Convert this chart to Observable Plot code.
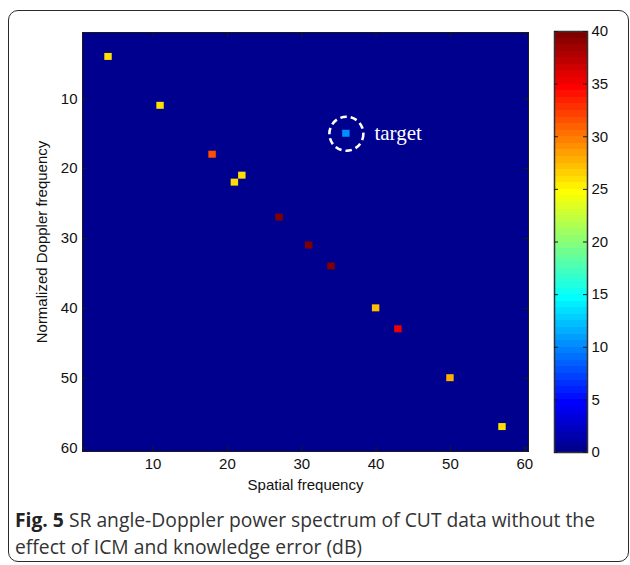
<!DOCTYPE html>
<html>
<head>
<meta charset="utf-8">
<script src="https://cdn.jsdelivr.net/npm/d3@7"></script>
<script src="https://cdn.jsdelivr.net/npm/@observablehq/plot@0.6"></script>
<style>
  html, body { margin: 0; padding: 0; background: #fff; }
  #page { position: relative; width: 630px; height: 565px; overflow: hidden; }
  #box {
    position: absolute; left: 8px; top: 10px; width: 619px; height: 550px;
    border: 1.5px solid #2a2a2a; border-radius: 10px;
  }
  #main, #bar { position: absolute; top: 0; }
  #main { left: 0; }
  #bar { left: 540px; }
  #caption {
    position: absolute; left: 15px; top: 506px; width: 610px;
    font-family: "Open Sans", sans-serif; font-size: 19.3px; line-height: 27px;
    color: #333; white-space: nowrap;
  }
  #caption .fig { font-weight: 700; color: #222; }
</style>
</head>
<body>
<div id="page">
  <div id="box"></div>
  <div id="main"></div>
  <div id="bar"></div>
  <div id="caption">
    <div><span class="fig">Fig. 5</span> <span>SR angle-Doppler power spectrum of CUT data without the</span></div>
    <div><span>effect of ICM and knowledge error (dB)</span></div>
  </div>
</div>
<script>
// Grid size (60 x 60 angle-Doppler bins) and the noise floor of the spectrum
const gridBins = 60;
const floorDb = 0;

// Non-zero cells of the sparse-recovery spectrum
const spatialBin = [4, 11, 18, 21, 22, 27, 31, 34, 40, 43, 50, 57, 36];
const dopplerBin = [4, 11, 18, 22, 21, 27, 31, 34, 40, 43, 50, 57, 15];
const powerDb    = [26, 26, 31.5, 26, 26, 40, 40, 40, 27, 35, 28, 26, 10];
const cellLabel  = ["", "", "", "", "", "", "", "", "", "", "", "", "target"];

// Axis ticks
const xTicks = [10, 20, 30, 40, 50, 60];
const yTicks = [10, 20, 30, 40, 50, 60];
const colorTicks = [0, 5, 10, 15, 20, 25, 30, 35, 40];
const colorRange = [0, 40];

const xLabel = "Spatial frequency";
const yLabel = "Normalized Doppler frequency";

const cells = spatialBin.map((s, i) => ({
  spatial: s, doppler: dopplerBin[i], power: powerDb[i], label: cellLabel[i]
}));

// MATLAB-style jet colormap with 64 discrete levels
const jetLevels = 64;
function jetU(j) {
  const n = jetLevels / 4;
  if (j < 1 || j > 3 * n - 1) return 0;
  if (j <= n) return j / n;
  if (j <= 2 * n - 1) return 1;
  return (3 * n - j) / n;
}
function jet(t) {
  const n = jetLevels / 4;
  const k = Math.max(1, Math.min(jetLevels, Math.floor(t * jetLevels) + 1));
  const r = jetU(k - 3 * n / 2), g = jetU(k - n / 2), b = jetU(k + n / 2);
  return `rgb(${Math.round(r * 255)},${Math.round(g * 255)},${Math.round(b * 255)})`;
}
const colorScale = { type: "linear", domain: colorRange, interpolate: jet, clamp: true };

const font = { fontFamily: "'Liberation Sans', Arial, sans-serif", fontSize: "15px", color: "#111", background: "transparent", overflow: "visible" };

// Main spectrum
const W = 540, H = 500, mL = 82, mR = 12, mT = 32, mB = 49;
const innerW = W - mL - mR, innerH = H - mT - mB;
const lo = 0.5, hi = gridBins + 0.5;

const main = Plot.plot({
  width: W, height: H,
  marginLeft: mL, marginRight: mR, marginTop: mT, marginBottom: mB,
  style: font,
  x: { domain: [lo, hi] },
  y: { domain: [lo, hi], reverse: true },
  color: colorScale,
  marks: [
    Plot.rect([{ power: floorDb }], { x1: () => lo, x2: () => hi, y1: () => lo, y2: () => hi, fill: "power" }),
    Plot.rect(cells, {
      x1: d => d.spatial - 0.5, x2: d => d.spatial + 0.5,
      y1: d => d.doppler - 0.5, y2: d => d.doppler + 0.5,
      fill: "power"
    }),
    Plot.dot(cells.filter(d => d.label), { x: "spatial", y: "doppler", r: 17, stroke: "white", strokeWidth: 2.6, strokeDasharray: "6.5,4", fill: "none" }),
    Plot.text(cells.filter(d => d.label), { x: "spatial", y: "doppler", text: "label", dx: 28, textAnchor: "start", fill: "white", fontFamily: "'Liberation Serif', 'Times New Roman', serif", fontSize: 21 }),
    Plot.frame({ stroke: "#1a1a1a", strokeWidth: 1 }),
    // inward ticks on all four sides
    Plot.tickX(xTicks, { x: d => d, insetTop: innerH - 5, stroke: "#1a1a1a" }),
    Plot.tickX(xTicks, { x: d => d, insetBottom: innerH - 5, stroke: "#1a1a1a" }),
    Plot.tickY(yTicks, { y: d => d, insetRight: innerW - 5, stroke: "#1a1a1a" }),
    Plot.tickY(yTicks, { y: d => d, insetLeft: innerW - 5, stroke: "#1a1a1a" }),
    Plot.axisX({ ticks: xTicks, tickSize: 0, tickPadding: 7, label: null }),
    Plot.axisY({ ticks: yTicks, tickSize: 0, tickPadding: 5, label: null }),
    Plot.text([xLabel], { frameAnchor: "bottom", dy: 38, text: d => d, fontSize: 15 }),
    Plot.text([yLabel], { frameAnchor: "left", textAnchor: "middle", dx: -40, rotate: -90, text: d => d, fontSize: 15 })
  ]
});
document.getElementById("main").append(main);

// Colorbar
const bW = 90, bmL = 14, bmR = 43, bmT = 31, bmB = 48;
const barInnerW = bW - bmL - bmR;
const step = (colorRange[1] - colorRange[0]) / jetLevels;
const barSteps = d3.range(jetLevels).map(i => ({
  y1: colorRange[0] + i * step, y2: colorRange[0] + (i + 1) * step, v: colorRange[0] + (i + 0.5) * step
}));
const bar = Plot.plot({
  width: bW, height: H,
  marginLeft: bmL, marginRight: bmR, marginTop: bmT, marginBottom: bmB,
  style: font,
  x: { domain: [0, 1], axis: null },
  y: { domain: colorRange },
  color: colorScale,
  marks: [
    Plot.rect(barSteps, { x1: () => 0, x2: () => 1, y1: "y1", y2: "y2", fill: "v", shapeRendering: "crispEdges" }),
    Plot.frame({ stroke: "#333", strokeWidth: 1.5 }),
    Plot.tickY(colorTicks, { y: d => d, insetRight: barInnerW - 4, stroke: "#1a1a1a" }),
    Plot.tickY(colorTicks, { y: d => d, insetLeft: barInnerW - 4, stroke: "#1a1a1a" }),
    Plot.axisY({ anchor: "right", ticks: colorTicks, tickSize: 0, tickPadding: 4, label: null })
  ]
});
document.getElementById("bar").append(bar);
</script>
</body>
</html>
